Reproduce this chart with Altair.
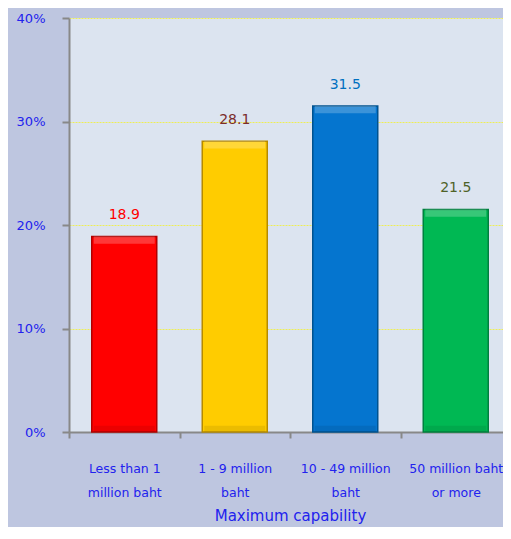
import altair as alt
import pandas as pd

categories = ["Less than 1|million baht", "1 - 9 million|baht", "10 - 49 million|baht", "50 million baht|or more"]
values = [18.9, 28.1, 31.5, 21.5]
bar_colors = ["#FF0000", "#FFCC00", "#0575CF", "#00B853"]
edge_colors = ["#B00000", "#B58A00", "#00528F", "#00803F"]
label_colors = ["#FF0000", "#7B2C2C", "#0070C0", "#4F6228"]

df = pd.DataFrame({"cat": categories, "val": values, "fill": bar_colors,
                   "edge": edge_colors, "lab": label_colors,
                   "txt": [f"{v:.1f}" for v in values]})

FONT = "DejaVu Sans"
AXIS_BLUE = "#2222EE"

xscale = alt.Scale(paddingInner=0, paddingOuter=0, range=[0, 442])
x = alt.X("cat:N", sort=categories, scale=xscale,
          axis=alt.Axis(title="Maximum capability", labelExpr="split(datum.label, '|')",
                        labelAngle=0, labelFont=FONT, labelFontSize=12.5, labelColor=AXIS_BLUE,
                        labelLineHeight=24, labelPadding=24, labelBaseline="top",
                        titleFont=FONT, titleFontSize=15, titleFontWeight="normal",
                        titleColor=AXIS_BLUE, titlePadding=10, titleX=221,
                        domainColor="#888888", domainWidth=2, tickColor="#888888",
                        tickWidth=2, tickSize=6, tickBand="extent", bandPosition=0,
                        grid=False))
y = alt.Y("val:Q", scale=alt.Scale(domain=[0, 40]),
          axis=alt.Axis(title=None, values=[0, 10, 20, 30, 40],
                        labelExpr="datum.value + '%'", labelFont=FONT, labelFontSize=13,
                        labelColor=AXIS_BLUE, labelPadding=17,
                        domainColor="#888888", domainWidth=2, tickColor="#888888",
                        tickWidth=2, tickSize=7, grid=True, gridColor="#EEEE55",
                        gridWidth=1, gridDash=[2, 1]))

base = alt.Chart(df)

bars = base.mark_bar(size=65, strokeWidth=1.5).encode(
    x=x, y=y,
    fill=alt.Fill("fill:N", scale=None),
    stroke=alt.Stroke("edge:N", scale=None),
)

bevel_top = base.transform_calculate(top2="datum.val - 0.7").mark_bar(
    size=61, color="white", opacity=0.22).encode(
    x=alt.X("cat:N", sort=categories, scale=xscale),
    y=alt.Y("val:Q"), y2="top2:Q",
)

bevel_bottom = base.transform_calculate(b0="0.05", b1="0.6").mark_bar(
    size=61, color="black", opacity=0.08).encode(
    x=alt.X("cat:N", sort=categories, scale=xscale),
    y=alt.Y("b1:Q"), y2="b0:Q",
)

texts = base.mark_text(font=FONT, fontSize=14, baseline="alphabetic", dy=-17).encode(
    x=alt.X("cat:N", sort=categories, scale=xscale),
    y=alt.Y("val:Q"),
    text="txt:N",
    color=alt.Color("lab:N", scale=None),
)

chart = alt.layer(bars, bevel_top, bevel_bottom, texts).properties(
    width=434, height=414,
    autosize=alt.AutoSizeParams(type="none"),
    padding={"left": 61, "top": 10, "right": 0, "bottom": 95},
    background="#BEC6E0",
).configure_view(fill="#DCE4F0", stroke=None)

chart.save("out.html", embed_options={"renderer": "svg", "actions": False})
